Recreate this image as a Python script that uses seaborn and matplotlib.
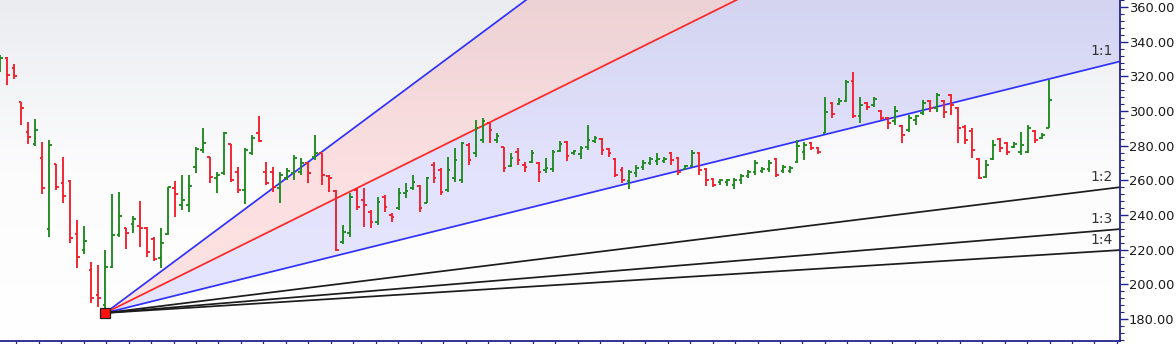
import numpy as np
import matplotlib
matplotlib.use("Agg")
import matplotlib.pyplot as plt
import seaborn as sns
from matplotlib.colors import LinearSegmentedColormap
from matplotlib.ticker import MultipleLocator, FormatStrFormatter, FixedLocator

# ---------------- data (daily OHLC) ----------------
opens = [323.7, 330.7, 324.9, 305.3, 288.0, 281.1, 273.0, 232.1, 269.5, 258.6,
         259.7, 229.2, 220.0, 208.4, 194.0, 188.2, 210.2, 228.6, 232.6, 234.9,
         233.8, 232.6, 226.3, 215.4, 229.2, 255.7, 245.9, 245.9, 267.8, 277.6,
         273.6, 261.5, 264.4, 281.1, 264.9, 254.6, 275.9, 287.4, 264.9, 264.9,
         255.7, 261.5, 264.4, 264.9, 270.1, 273.6, 275.9, 262.6, 254.0, 224.6,
         229.8, 254.6, 248.8, 241.9, 236.1, 250.5, 240.1, 244.2, 252.8, 255.7,
         256.9, 247.1, 269.0, 266.1, 254.6, 261.5, 260.3, 280.5, 275.9, 283.4,
         293.2, 283.4, 279.3, 268.4, 276.5, 269.0, 270.7, 270.1, 266.1, 266.7,
         277.1, 282.3, 275.9, 275.3, 279.3, 282.8, 283.9, 278.2, 272.4, 266.1,
         259.7, 264.4, 267.8, 270.1, 271.3, 271.3, 275.9, 273.0, 266.7, 268.4,
         275.9, 266.7, 260.9, 259.2, 259.2, 257.4, 260.3, 262.6, 264.9, 265.5,
         266.7, 272.4, 265.5, 265.5, 270.7, 276.5, 281.7, 278.8, 287.4, 304.7,
         304.1, 305.9, 317.4, 297.2, 304.7, 303.6, 300.1, 296.1, 294.3, 291.5,
         289.2, 294.9, 299.0, 305.9, 301.8, 305.9, 309.4, 301.8, 290.9, 288.6,
         272.4, 262.1, 272.4, 283.9, 281.7, 279.3, 276.5, 276.5, 288.6, 284.5,
         290.3]
highs = [332.4, 331.2, 327.2, 305.3, 293.8, 295.5, 282.3, 283.4, 269.5, 273.6,
         260.3, 237.3, 233.8, 213.0, 211.3, 220.0, 252.3, 253.4, 232.6, 239.6,
         248.2, 233.2, 227.5, 232.6, 256.3, 259.7, 263.2, 263.2, 279.3, 290.3,
         273.6, 264.9, 288.0, 281.1, 267.8, 278.8, 286.3, 297.2, 270.7, 267.8,
         264.9, 267.2, 274.7, 273.0, 270.7, 286.3, 275.9, 263.2, 254.6, 234.4,
         252.8, 255.7, 255.7, 243.0, 250.5, 251.7, 241.3, 255.7, 258.6, 263.2,
         257.4, 262.1, 270.7, 267.2, 273.6, 278.8, 282.3, 281.7, 294.9, 296.1,
         293.2, 287.4, 279.3, 275.9, 278.8, 270.7, 277.6, 270.7, 273.0, 277.6,
         282.8, 282.8, 277.6, 279.9, 292.0, 285.7, 284.5, 278.8, 273.0, 267.8,
         266.1, 269.0, 271.9, 273.6, 275.9, 273.6, 276.5, 273.6, 269.0, 277.6,
         276.5, 267.2, 261.5, 260.9, 260.9, 261.5, 263.8, 266.1, 271.9, 267.8,
         271.9, 273.0, 269.0, 268.4, 283.4, 282.3, 282.3, 279.3, 308.2, 305.3,
         307.6, 318.0, 322.6, 308.2, 305.3, 308.2, 300.7, 296.7, 302.9, 292.0,
         297.8, 297.8, 306.5, 306.5, 310.5, 306.5, 309.9, 302.4, 292.0, 290.3,
         273.0, 271.9, 283.4, 284.5, 282.3, 282.3, 288.0, 292.0, 289.2, 287.4,
         318.0]
lows = [322.6, 314.9, 318.6, 292.0, 281.1, 279.9, 252.3, 227.5, 254.6, 247.1,
        224.0, 209.6, 217.7, 189.4, 187.1, 183.5, 209.6, 227.5, 220.5, 229.8,
        221.7, 215.9, 213.6, 209.6, 228.6, 239.0, 243.0, 241.9, 264.3, 275.9,
        258.6, 252.8, 263.2, 259.2, 252.8, 246.5, 274.7, 282.3, 257.4, 253.4,
        247.1, 260.3, 260.3, 263.2, 258.6, 271.9, 257.4, 253.4, 219.4, 223.4,
        227.5, 243.0, 233.2, 232.6, 234.4, 241.9, 236.1, 243.0, 249.9, 254.6,
        241.9, 247.1, 258.6, 251.7, 253.4, 259.2, 258.6, 269.0, 273.6, 281.7,
        281.7, 281.7, 264.9, 267.8, 269.0, 264.9, 270.1, 259.2, 264.4, 264.9,
        276.5, 271.3, 274.7, 272.4, 277.6, 281.7, 274.7, 273.6, 262.1, 258.6,
        255.1, 262.1, 266.1, 269.0, 269.0, 270.1, 269.0, 263.2, 266.1, 267.8,
        263.2, 256.9, 256.3, 257.4, 256.9, 255.1, 258.0, 261.5, 263.2, 264.4,
        264.9, 262.1, 264.4, 264.4, 270.1, 271.9, 277.6, 275.3, 287.4, 296.1,
        303.6, 305.3, 296.1, 293.2, 300.7, 302.4, 294.9, 289.7, 292.0, 281.7,
        288.0, 292.0, 297.8, 299.6, 299.6, 296.1, 297.8, 281.7, 281.1, 273.0,
        260.9, 261.5, 271.9, 276.5, 274.7, 278.8, 274.7, 275.9, 281.7, 283.9,
        290.3]
closes = [330.7, 320.9, 320.3, 301.8, 285.1, 289.2, 255.7, 280.5, 256.3, 251.1,
          226.9, 215.9, 225.1, 192.3, 192.3, 210.2, 228.6, 239.6, 229.8, 237.8,
          232.6, 218.8, 214.8, 224.0, 256.3, 252.3, 248.8, 256.9, 278.1, 281.7,
          262.1, 263.2, 287.4, 260.3, 254.6, 277.6, 284.5, 282.8, 258.6, 256.3,
          263.2, 265.5, 273.0, 270.1, 264.4, 275.9, 263.2, 261.5, 220.0, 230.3,
          250.5, 244.8, 245.9, 236.1, 247.6, 244.8, 239.0, 252.8, 254.0, 259.2,
          244.2, 261.5, 261.5, 253.4, 266.1, 271.9, 281.7, 271.9, 290.3, 294.3,
          289.2, 285.7, 267.2, 273.0, 271.9, 267.8, 275.9, 264.9, 267.2, 276.5,
          281.1, 274.2, 277.1, 278.8, 283.4, 284.5, 277.6, 275.9, 263.2, 260.3,
          264.9, 267.2, 270.1, 272.4, 272.4, 272.4, 271.9, 264.9, 268.4, 275.9,
          266.1, 260.3, 257.4, 260.3, 260.3, 260.3, 262.6, 264.9, 270.1, 266.7,
          270.1, 263.2, 267.8, 267.2, 279.9, 280.5, 278.8, 276.5, 299.6, 298.4,
          305.9, 316.9, 297.2, 303.6, 302.4, 307.0, 296.1, 293.2, 300.1, 286.3,
          296.1, 297.2, 304.7, 301.8, 309.4, 299.6, 303.6, 290.3, 283.4, 277.6,
          261.5, 269.0, 280.5, 278.8, 276.5, 281.1, 280.5, 290.3, 283.4, 286.3,
          306.5]

# Gann fan anchored at the swing low
pivot_bar = 15
pivot_price = 183.5
price_per_bar = 1.0
fan_ratios = [3.0, 2.0, 1.0, 1 / 2, 1 / 3, 1 / 4]
fan_labels = ["3:1", "2:1", "1:1", "1:2", "1:3", "1:4"]
fan_colors = ["#3030ff", "#ff2626", "#3030ff", "#1c1c1c", "#1c1c1c", "#1c1c1c"]
labelled = ["1:1", "1:2", "1:3", "1:4"]

y_ticks = [180, 200, 220, 240, 260, 280, 300, 320, 340, 360]

# ---------------- figure ----------------
sns.set_theme(style="white")
plt.rcParams["font.family"] = ["DejaVu Sans"]

W, H = 1176, 344
fig = plt.figure(figsize=(W / 100, H / 100), dpi=100)
fig.patch.set_facecolor("white")
ax = fig.add_axes([0, 3.3 / H, 1119.5 / W, 340.7 / H])

xmin, xmax = -0.05, 160.1
ymin, ymax = 167.5, 364.1

# soft vertical gradient background
bg = LinearSegmentedColormap.from_list("bg", ["#ffffff", "#fcfcfd", "#ebecf0"])
ax.imshow(np.linspace(0, 1, 256).reshape(-1, 1), cmap=bg, origin="lower",
          extent=[xmin, xmax, ymin, ymax], aspect="auto", zorder=0)
ax.set_facecolor("white")

# fan lines
xs = np.array([pivot_bar, xmax])
fan_y = {lab: pivot_price + r * price_per_bar * (xs - pivot_bar)
         for lab, r in zip(fan_labels, fan_ratios)}

ax.fill_between(xs, fan_y["3:1"], fan_y["2:1"], color="#ff1a1a", alpha=0.12,
                lw=0, zorder=1)
ax.fill_between(xs, fan_y["2:1"], fan_y["1:1"], color="#1a1aff", alpha=0.11,
                lw=0, zorder=1)

for lab, col in zip(fan_labels, fan_colors):
    sns.lineplot(x=xs, y=fan_y[lab], ax=ax, color=col, lw=1.25, zorder=2,
                 estimator=None, sort=False)

for lab in labelled:
    ax.annotate(lab, xy=(157.6, fan_y[lab][-1]), xytext=(0, 7.5),
                textcoords="offset points", ha="center", va="center",
                fontsize=10, color="#333333", zorder=5)

# OHLC bars
o = np.array(opens); h = np.array(highs); l = np.array(lows); c = np.array(closes)
idx = np.arange(len(o))
up = c >= o
green, red = "#1f8a1f", "#f0202c"
cols = np.where(up, green, red)
tick = 0.38
ax.vlines(idx, l, h, colors=cols, lw=1.35, zorder=3)
ax.hlines(o, idx - tick, idx, colors=cols, lw=1.35, zorder=3)
ax.hlines(c, idx, idx + tick, colors=cols, lw=1.35, zorder=3)

# pivot marker
ax.plot([pivot_bar], [pivot_price], marker="s", ms=7, mfc="#ff1010",
        mec="#202020", mew=0.9, zorder=6, clip_on=False)

ax.set_xlim(xmin, xmax)
ax.set_ylim(ymin, ymax)

# axes styling
navy = "#22228c"
for s in ["left", "top"]:
    ax.spines[s].set_visible(False)
for s in ["right", "bottom"]:
    ax.spines[s].set_visible(True)
    ax.spines[s].set_color(navy)
    ax.spines[s].set_linewidth(1.3)

ax.yaxis.tick_right()
ax.yaxis.set_major_locator(FixedLocator(y_ticks))
ax.yaxis.set_minor_locator(MultipleLocator(4))
ax.yaxis.set_major_formatter(FormatStrFormatter("%.2f"))
ax.tick_params(axis="y", which="major", direction="out", length=5.5, width=1,
               color=navy, labelsize=9.4, labelcolor="#1a1a1a", pad=1.0,
               right=True, left=False)
ax.tick_params(axis="y", which="minor", direction="out", length=3, width=0.8,
               color=navy, right=True, left=False)

ax.xaxis.set_major_locator(FixedLocator(np.arange(2.29, xmax, 3.213)))
ax.tick_params(axis="x", which="major", direction="out", length=3, width=0.9,
               color=navy, labelbottom=False, bottom=True)
ax.grid(False)

fig.savefig("out.png", dpi=100, facecolor="white")
